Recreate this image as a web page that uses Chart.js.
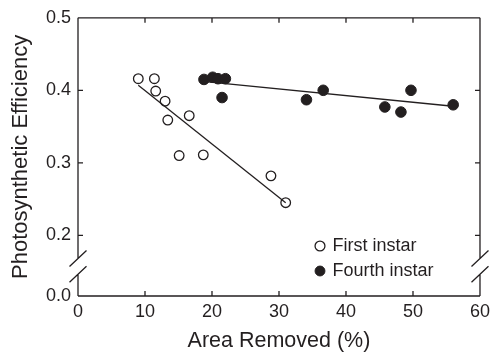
<!DOCTYPE html>
<html>
<head>
<meta charset="utf-8">
<script src="https://cdn.jsdelivr.net/npm/chart.js@4/dist/chart.umd.min.js"></script>
<style>
  html, body { margin: 0; padding: 0; background: #ffffff; }
  canvas { display: block; }
</style>
</head>
<body>
<canvas id="c" width="495" height="358"></canvas>
<script>
// ---- data ----
const firstX  = [9.0, 11.4, 11.6, 13.0, 13.4, 16.6, 15.1, 18.7, 28.8, 31.0];
const firstY  = [0.416, 0.416, 0.399, 0.385, 0.359, 0.365, 0.310, 0.311, 0.282, 0.245];
const fourthX = [18.8, 20.1, 20.9, 22.0, 21.5, 34.1, 36.6, 45.8, 48.2, 49.7, 56.0];
const fourthY = [0.415, 0.418, 0.416, 0.416, 0.390, 0.387, 0.400, 0.377, 0.370, 0.400, 0.380];
const firstFitX  = [9.0, 31.0];
const firstFitY  = [0.407, 0.245];
const fourthFitX = [19.0, 56.0];
const fourthFitY = [0.412, 0.378];
const seriesLabels = ['First instar', 'Fourth instar'];
const xTicks = [0, 10, 20, 30, 40, 50, 60];
const yTicks = [0.0, 0.2, 0.3, 0.4, 0.5];
const yBreak = [0.030, 0.168];   // values hidden by the axis break
const xTitle = 'Area Removed (%)';
const yTitle = 'Photosynthetic Efficiency';

const INK = '#231f20';
const FONT = "'Liberation Sans', Arial, Helvetica, sans-serif";

function pts(xs, ys) { return xs.map((x, i) => ({ x: x, y: ys[i] })); }

// ---- linear scale with a break (skips the yBreak interval) ----
class BrokenLinearScale extends Chart.LinearScale {
  _comp(v) {
    const lo = this.options.breakLow, hi = this.options.breakHigh, gap = this.options.breakGap;
    if (v <= lo) return v;
    if (v >= hi) return v - (hi - lo) + gap;
    return lo + gap * (v - lo) / (hi - lo);
  }
  _decomp(c) {
    const lo = this.options.breakLow, hi = this.options.breakHigh, gap = this.options.breakGap;
    if (c <= lo) return c;
    if (c >= lo + gap) return c + (hi - lo) - gap;
    return lo + (c - lo) * (hi - lo) / gap;
  }
  getPixelForValue(v) {
    if (v === null || v === undefined) return NaN;
    const a = this._comp(this.min), b = this._comp(this.max);
    return this.getPixelForDecimal((this._comp(v) - a) / (b - a));
  }
  getValueForPixel(p) {
    const a = this._comp(this.min), b = this._comp(this.max);
    return this._decomp(a + this.getDecimalForPixel(p) * (b - a));
  }
}
BrokenLinearScale.id = 'brokenLinear';
Chart.register(BrokenLinearScale);

// ---- frame, inward ticks and break marks ----
const framePlugin = {
  id: 'frame',
  afterLayout(chart) {
    const lg = chart.legend;
    if (lg) {
      lg.left = 309.5; lg.top = 230; lg.right = 495; lg.bottom = 358;
    }
  },
  afterDraw(chart) {
    const { ctx, chartArea: { left, right, top, bottom }, scales: { x, y } } = chart;
    const yLo = y.getPixelForValue(yBreak[0]);
    const yHi = y.getPixelForValue(yBreak[1]);
    const tl = 5;
    ctx.save();
    ctx.strokeStyle = INK;
    ctx.lineWidth = 1.3;
    ctx.lineCap = 'butt';
    ctx.beginPath();
    ctx.moveTo(left, bottom); ctx.lineTo(right, bottom);
    ctx.moveTo(left, top); ctx.lineTo(right, top);
    [left, right].forEach(xx => {
      ctx.moveTo(xx, top); ctx.lineTo(xx, yHi);
      ctx.moveTo(xx, yLo); ctx.lineTo(xx, bottom);
    });
    x.ticks.forEach((t, i) => {
      const px = x.getPixelForTick(i);
      ctx.moveTo(px, bottom); ctx.lineTo(px, bottom - tl);
      ctx.moveTo(px, top); ctx.lineTo(px, top + tl);
    });
    y.ticks.forEach((t, i) => {
      const py = y.getPixelForTick(i);
      ctx.moveTo(left, py); ctx.lineTo(left + tl, py);
      ctx.moveTo(right, py); ctx.lineTo(right - tl, py);
    });
    [left, right].forEach(xx => {
      [yHi, yLo].forEach(yy => {
        ctx.moveTo(xx - 8.5, yy + 8); ctx.lineTo(xx + 8.5, yy - 8);
      });
    });
    ctx.stroke();
    ctx.restore();
  }
};

new Chart(document.getElementById('c'), {
  type: 'scatter',
  data: {
    datasets: [
      {
        label: seriesLabels[0],
        data: pts(firstX, firstY),
        pointStyle: 'circle',
        pointRadius: 4.8,
        pointHoverRadius: 4.8,
        borderWidth: 1.3,
        borderColor: INK,
        backgroundColor: 'rgba(255,255,255,0)'
      },
      {
        label: seriesLabels[1],
        data: pts(fourthX, fourthY),
        pointStyle: 'circle',
        pointRadius: 5.3,
        pointHoverRadius: 5.3,
        borderWidth: 1,
        borderColor: INK,
        backgroundColor: INK
      },
      {
        label: 'fit1',
        type: 'line',
        data: pts(firstFitX, firstFitY),
        showLine: true,
        pointRadius: 0,
        borderWidth: 1.3,
        borderColor: INK,
        fill: false
      },
      {
        label: 'fit4',
        type: 'line',
        data: pts(fourthFitX, fourthFitY),
        showLine: true,
        pointRadius: 0,
        borderWidth: 1.3,
        borderColor: INK,
        fill: false
      }
    ]
  },
  options: {
    responsive: false,
    animation: false,
    devicePixelRatio: 1,
    layout: { padding: { top: 13, right: 12, left: 0, bottom: 0 } },
    plugins: {
      tooltip: { enabled: false },
      legend: {
        position: 'chartArea',
        align: 'start',
        labels: {
          usePointStyle: true,
          pointStyle: 'circle',
          boxWidth: 7,
          boxHeight: 7,
          padding: 7,
          color: INK,
          font: { family: FONT, size: 18 },
          filter: item => item.datasetIndex < 2
        }
      }
    },
    scales: {
      x: {
        type: 'linear',
        position: 'bottom',
        min: 0, max: 60,
        afterBuildTicks: s => { s.ticks = xTicks.map(v => ({ value: v })); },
        afterFit: s => { s.height = 62; },
        grid: { display: false, drawTicks: false },
        border: { display: false },
        ticks: {
          padding: 5,
          color: INK,
          font: { family: FONT, size: 18 },
          callback: v => String(v)
        },
        title: {
          display: true,
          text: xTitle,
          color: INK,
          font: { family: FONT, size: 21.5 },
          padding: { top: 0, bottom: 4 }
        }
      },
      y: {
        type: 'brokenLinear',
        position: 'left',
        min: 0, max: 0.5,
        breakLow: yBreak[0],
        breakHigh: yBreak[1],
        breakGap: 0.0217,
        afterBuildTicks: s => { s.ticks = yTicks.map(v => ({ value: v })); },
        afterFit: s => { s.width = 78; },
        grid: { display: false, drawTicks: false },
        border: { display: false },
        ticks: {
          padding: 7,
          color: INK,
          font: { family: FONT, size: 18 },
          callback: v => Number(v).toFixed(1)
        },
        title: {
          display: true,
          text: yTitle,
          color: INK,
          font: { family: FONT, size: 22 },
          padding: { top: 8, bottom: 0 }
        }
      }
    }
  },
  plugins: [framePlugin]
});
</script>
</body>
</html>
